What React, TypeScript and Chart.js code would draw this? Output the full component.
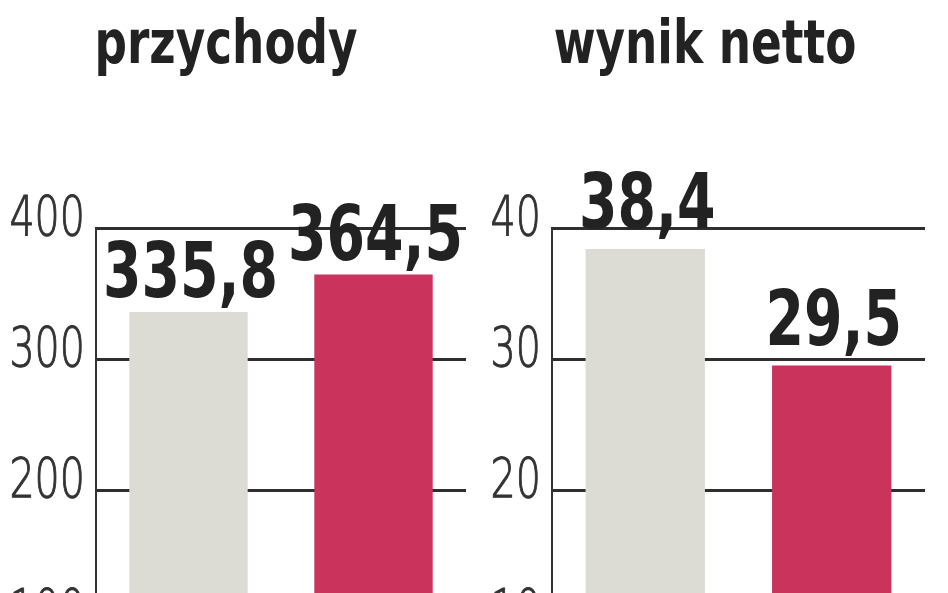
import { useEffect, useRef } from "react"
import { Chart, registerables } from "chart.js"
import type { Plugin } from "chart.js"

Chart.register(...registerables)

// periods compared (not printed in the graphic)
const periods = ["poprzednio", "obecnie"]
const revenue = [335.8, 364.5]
const netResult = [38.4, 29.5]
const revenueTicks = { min: 0, max: 400, step: 100 }
const netTicks = { min: 0, max: 40, step: 10 }

const GRAY = "#dddcd4"
const RED = "#c9335c"
const INK = "#222222"
const BOLD_FONT = "'DejaVu Sans Condensed', 'DejaVu Sans', sans-serif"
const LIGHT_FONT = "'DejaVu Sans', sans-serif"

// no narrow DIN-like face installed, so squeeze text horizontally
function drawSqueezed(
  ctx: CanvasRenderingContext2D,
  text: string,
  x: number,
  y: number,
  squeeze: number,
  align: CanvasTextAlign,
  outline = 0
) {
  ctx.save()
  ctx.translate(x, y)
  ctx.scale(squeeze, 1)
  ctx.textAlign = align
  ctx.textBaseline = "alphabetic"
  ctx.fillText(text, 0, 0)
  if (outline > 0) {
    // thicken the extra-light strokes a little
    ctx.lineWidth = outline
    ctx.strokeText(text, 0, 0)
  }
  ctx.restore()
}

// big bold numbers above bars, decimal comma
const valueLabels: Plugin<"bar"> = {
  id: "valueLabels",
  afterDatasetsDraw(chart, _args, opts: any) {
    const { ctx } = chart
    const meta = chart.getDatasetMeta(0)
    const values = chart.data.datasets[0].data as number[]
    ctx.save()
    ctx.font = `bold ${opts.size}px ${BOLD_FONT}`
    ctx.fillStyle = INK
    meta.data.forEach((bar, i) => {
      const text = values[i].toFixed(1).replace(".", ",")
      drawSqueezed(ctx, text, bar.x + 2, bar.y - opts.gap, opts.squeeze, "center")
    })
    ctx.restore()
  },
}

// y tick labels, placed from the y scale's own ticks
const axisLabels: Plugin<"bar"> = {
  id: "axisLabels",
  afterDraw(chart, _args, opts: any) {
    const { ctx } = chart
    const scale = chart.scales.y
    ctx.save()
    ctx.font = `200 ${opts.size}px ${LIGHT_FONT}`
    ctx.fillStyle = "#333333"
    ctx.strokeStyle = "#333333"
    scale.ticks.forEach((tick, i) => {
      const y = scale.getPixelForTick(i) + opts.drop
      drawSqueezed(ctx, String(tick.value), scale.right - opts.padding, y, opts.squeeze, "right", 1.1)
    })
    ctx.restore()
  },
}

// panel heading
const panelTitle: Plugin<"bar"> = {
  id: "panelTitle",
  afterDraw(chart, _args, opts: any) {
    const { ctx } = chart
    ctx.save()
    ctx.font = `bold ${opts.size}px ${BOLD_FONT}`
    ctx.fillStyle = INK
    drawSqueezed(ctx, opts.text, opts.x, opts.y, opts.squeeze, "center")
    ctx.restore()
  },
}

type PanelProps = {
  title: string
  values: number[]
  range: { min: number; max: number; step: number }
  left: number
  axisWidth: number
  padRight: number
  titleX: number
  gap: number
}

function Panel({ title, values, range, left, axisWidth, padRight, titleX, gap }: PanelProps) {
  const chartRef = useRef<HTMLCanvasElement>(null)
  const chartInstance = useRef<Chart<"bar"> | null>(null)

  useEffect(() => {
    if (!chartRef.current) return
    const ctx = chartRef.current.getContext("2d")
    if (!ctx) return

    if (chartInstance.current) {
      chartInstance.current.destroy()
    }

    chartInstance.current = new Chart(ctx, {
      type: "bar",
      data: {
        labels: periods,
        datasets: [
          {
            label: title,
            data: values,
            backgroundColor: [GRAY, RED],
            barPercentage: 0.64,
            categoryPercentage: 1,
          },
        ],
      },
      plugins: [valueLabels, axisLabels, panelTitle],
      options: {
        animation: false,
        responsive: true,
        maintainAspectRatio: false,
        layout: { padding: { top: 228, right: padRight, bottom: 48, left: 0 } },
        plugins: {
          legend: { display: false },
          tooltip: { enabled: false },
          title: { display: false },
          valueLabels: { size: 76, gap, squeeze: 0.81 },
          axisLabels: { size: 55, padding: 11, drop: 7, squeeze: 0.72 },
          panelTitle: { text: title, x: titleX, y: 63, size: 60, squeeze: 0.84 },
        } as any,
        scales: {
          x: { display: false },
          y: {
            min: range.min,
            max: range.max,
            ticks: { stepSize: range.step, display: false },
            grid: { color: "#2e2e2e", lineWidth: 3, drawTicks: false },
            border: { color: "#333333", width: 2 },
            afterFit: (scale) => {
              scale.width = axisWidth
            },
          },
        },
      },
    })

    return () => {
      if (chartInstance.current) {
        chartInstance.current.destroy()
        chartInstance.current = null
      }
    }
  }, [])

  return (
    <div style={{ position: "absolute", left, top: 0, width: 474, height: 800 }}>
      <canvas ref={chartRef} />
    </div>
  )
}

export default function App() {
  return (
    <div style={{ position: "fixed", left: 0, top: 0, width: 948, height: 800, background: "#fff" }}>
      <Panel title="przychody" values={revenue} range={revenueTicks} left={0} axisWidth={96} padRight={8} titleX={226} gap={15} />
      <Panel title="wynik netto" values={netResult} range={netTicks} left={474} axisWidth={78} padRight={23} titleX={231} gap={21} />
    </div>
  )
}
